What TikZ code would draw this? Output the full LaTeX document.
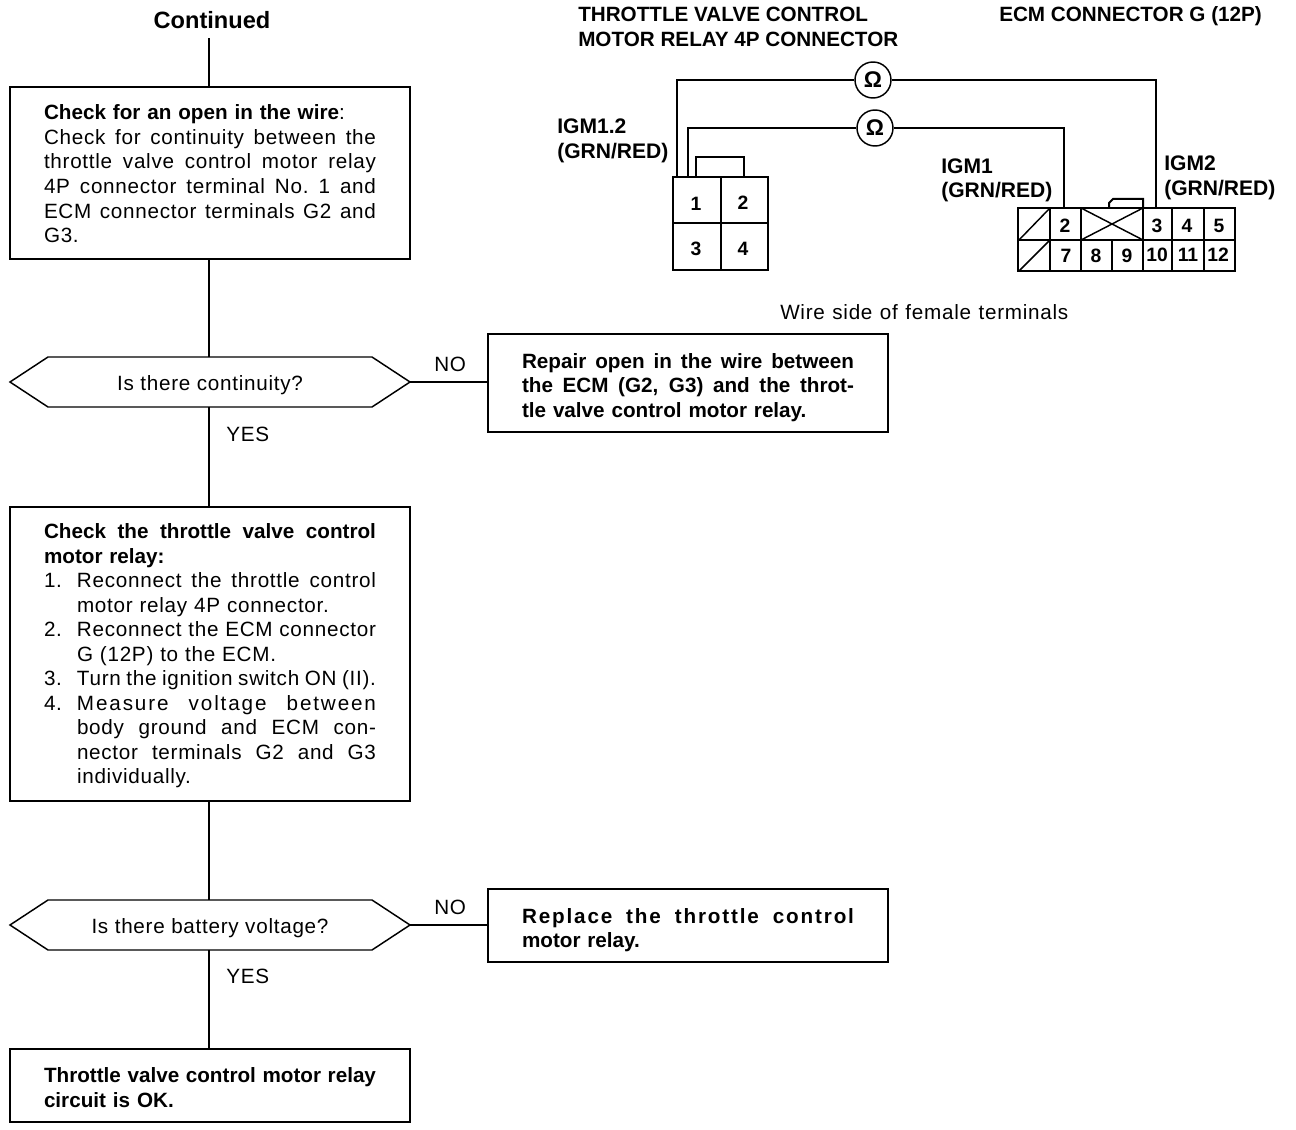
\documentclass[tikz,border=0pt]{standalone}
\usepackage{fontspec}
\setmainfont[LetterSpace=3.5,BoldFeatures={LetterSpace=0}]{Liberation Sans}
\newfontfamily\widefam[BoldFeatures={LetterSpace=9}]{Liberation Sans}
\newcommand{\Sp}{\spaceskip=.27em plus 1em minus .1em\xspaceskip=.27em plus 1em minus .1em\relax}
\newcommand{\J}[1]{\makebox[249pt][s]{\Sp #1}}
\newcommand{\Li}[2]{\makebox[24.75pt][l]{#1}\makebox[224.25pt][s]{\Sp #2}}
\newcommand{\Lp}[2]{\makebox[24.75pt][l]{#1}#2}
\newcommand{\Up}[1]{\rule{0pt}{#1pt}}
\newcommand{\Hexa}[1]{\draw[line width=1.1pt] (#1.west) -- ([xshift=28.5pt]#1.north west) -- ([xshift=-28.5pt]#1.north east) -- (#1.east) -- ([xshift=-28.5pt]#1.south east) -- ([xshift=28.5pt]#1.south west) -- cycle;}
\begin{document}
\begin{tikzpicture}[x=0.75pt,y=-0.75pt,
  every node/.style={font=\fontsize{15.5}{18.4}\selectfont},
  wire/.style={line width=1.5pt},
  thinw/.style={line width=1.1pt},
  stepbox/.style={draw,line width=1.4pt,outer sep=0pt,minimum width=300pt,text width=249pt,inner xsep=25.5pt,inner ysep=0pt,align=left,anchor=north west},
  query/.style={outer sep=0pt,minimum width=300pt,minimum height=37.5pt,inner sep=0pt},
  lab/.style={inner sep=0pt,anchor=base west},
  blab/.style={inner sep=0pt,anchor=west,align=left,font=\fontsize{15.8}{18.4}\bfseries\selectfont},
  num/.style={inner sep=0pt,font=\fontsize{14.5}{16}\bfseries\selectfont},
  ohm/.style={circle,draw,line width=1.1pt,fill=white,minimum size=27pt,inner sep=0pt,font=\fontsize{17}{16}\bfseries\selectfont}]
\useasboundingbox (0,0) rectangle (1296,1130);
\fill[white] (0,0) rectangle (1296,1130);

% flow
\node[inner sep=2pt,font=\fontsize{17.7}{20}\bfseries\selectfont] (cont) at (212,20) {Continued};
\node[stepbox,minimum height=129pt] (b1) at (10,87) {\Up{12.5}\textbf{Check for an open in the wire}:\\
 \J{Check for continuity between the}\\
 \J{throttle valve control motor relay}\\
 \J{4P connector terminal No. 1 and}\\
 \J{ECM connector terminals G2 and}\\
 G3.};
\node[query] (q1) at (210,382) {\Up{16}Is there continuity?};
\Hexa{q1}
\node[stepbox,minimum height=73.5pt] (r1) at (488,334) {\bfseries\Up{18}%
 \J{Repair open in the wire between}\\
 \J{the ECM (G2, G3) and the throt-}\\
 tle valve control motor relay.};
\node[stepbox,minimum height=220.5pt] (b2) at (10,507) {\bfseries\Up{14}%
 \J{Check the throttle valve control}\\
 motor relay:\\
 \mdseries
 \Li{1.}{Reconnect the throttle control}\\
 \Lp{}{motor relay 4P connector.}\\
 \Li{2.}{Reconnect the ECM connector}\\
 \Lp{}{G (12P) to the ECM.}\\
 \Li{3.}{Turn the ignition switch ON (II).}\\
 \Li{4.}{\addfontfeature{LetterSpace=9}Measure voltage between}\\
 \Li{}{body ground and ECM con-}\\
 \Li{}{nector terminals G2 and G3}\\
 \Lp{}{individually.}};
\node[query] (q2) at (210,925) {\Up{16}Is there battery voltage?};
\Hexa{q2}
\node[stepbox,minimum height=54.75pt] (r2) at (488,889) {\bfseries\Up{18}%
 \J{\widefam\bfseries Replace the throttle control}\\
 motor relay.};
\node[stepbox,minimum height=54.75pt] (b3) at (10,1049) {\bfseries\Up{14}%
 \J{Throttle valve control motor relay}\\
 circuit is OK.};

\draw[thinw] ([yshift=-5pt]cont.south -| 209,0) -- (b1.north -| 209,0);
\draw[thinw] (b1.south -| 209,0) -- (q1.north -| 209,0);
\draw[thinw] (q1.south -| 209,0) -- (b2.north -| 209,0);
\draw[thinw] (b2.south -| 209,0) -- (q2.north -| 209,0);
\draw[thinw] (q2.south -| 209,0) -- (b3.north -| 209,0);
\draw[thinw] (q1.east) -- (r1.west |- q1.east);
\draw[thinw] (q2.east) -- (r2.west |- q2.east);
\node[lab] (no1) at (434,372) {NO};
\node[lab] (yes1) at (226,441) {YES};
\node[lab] (no2) at (434,914) {NO};
\node[lab] (yes2) at (226,983) {YES};

% titles
\node[lab,font=\fontsize{15.5}{18}\bfseries\selectfont] (t1) at (578,22) {THROTTLE VALVE CONTROL};
\node[lab,font=\fontsize{15.5}{18}\bfseries\selectfont] (t2) at (578,47) {MOTOR RELAY 4P CONNECTOR};
\node[lab,font=\fontsize{15.5}{18}\bfseries\selectfont] (t3) at (999,22) {ECM CONNECTOR G (12P)};
\node[lab] (ws) at (780,320) {\makebox[216pt][s]{Wire side of female terminals}};

% 4P connector
\draw[line width=1.9pt] (673,177) rectangle (768,270);
\draw[thinw] (721,177) -- (721,270) (673,223) -- (768,223);
\draw[wire] (696,177) -- (696,157) -- (744,157) -- (744,177);
\node[num] (n1) at (696,204) {1};
\node[num] (n2) at (743,203) {2};
\node[num] (n3) at (696,249) {3};
\node[num] (n4) at (743,249) {4};
\coordinate (p1a) at (677,177);
\coordinate (p1b) at (688,177);

% ECM connector
\draw[line width=1.9pt] (1018,208) rectangle (1235,271);
\draw[thinw] (1018,240) -- (1235,240);
\draw[thinw] (1050,208) -- (1050,271) (1081,208) -- (1081,271) (1143,208) -- (1143,271)
  (1172,208) -- (1172,271) (1204,208) -- (1204,271) (1112,240) -- (1112,271);
\draw[thinw] (1019,240) -- (1050,208) (1019,271) -- (1050,240)
  (1081,208) -- (1143,240) (1081,240) -- (1143,208);
\draw[wire] (1109,208) -- (1109,203) -- (1113,199) -- (1143,199) -- (1143,208);
\node[num] (e2) at (1065,226) {2};
\node[num] (e3) at (1157,226) {3};
\node[num] (e4) at (1187,226) {4};
\node[num] (e5) at (1219,226) {5};
\node[num] (e7) at (1066,256) {7};
\node[num] (e8) at (1096,256) {8};
\node[num] (e9) at (1127,256) {9};
\node[num] (e10) at (1157,255) {10};
\node[num] (e11) at (1188,255) {11};
\node[num] (e12) at (1218,255) {12};
\coordinate (g2) at (1064,208);
\coordinate (g3) at (1156,208);

% wires
\node[ohm] (o1) at (873,80) {Ω};
\node[ohm] (o2) at (875,128) {Ω};
\draw[wire] (p1a) |- (o1.west);
\draw[wire] (o1.east) -| (g3);
\draw[wire] (p1b) |- (o2.west);
\draw[wire] (o2.east) -| (g2);

% wire labels
\node[blab] (l1) at (557,141) {IGM1.2\\(GRN/RED)};
\node[blab] (l2) at (941,180.5) {IGM1\\(GRN/RED)};
\node[blab] (l3) at (1164,178) {IGM2\\(GRN/RED)};
\end{tikzpicture}
\end{document}
